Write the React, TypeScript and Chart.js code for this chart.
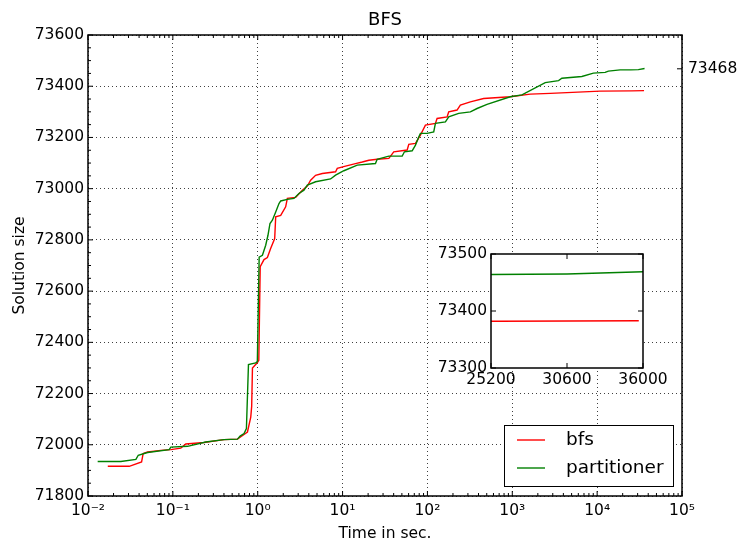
import React, { useEffect, useRef } from "react";
import { Chart, registerables } from "chart.js";

Chart.register(...registerables);

// ---- data ----
const bfsTime = [0.0171, 0.0306, 0.0428, 0.0447, 0.0504, 0.0722, 0.0947, 0.124, 0.142, 0.233, 0.401, 0.577, 0.69, 0.757, 0.828, 0.849, 0.867, 0.992, 1.03, 1.07, 1.186, 1.3, 1.42, 1.585, 1.629, 1.866, 2.135, 2.235, 2.8, 3.357, 3.843, 4.205, 4.81, 5.77, 8.27, 8.66, 10.84, 14.2, 17.06, 20.4, 25.6, 35.1, 40.1, 57.7, 60.3, 72.3, 82.7, 94.7, 124.2, 130, 170.6, 178.2, 223.4, 244.4, 320.6, 459.4, 946, 1629, 2800, 10840, 25700, 35700];
const bfsSize = [71916, 71916, 71933, 71966, 71972, 71978, 71981, 71987, 72003, 72009, 72020, 72022, 72040, 72050, 72108, 72150, 72300, 72321, 72330, 72695, 72723, 72731, 72766, 72805, 72890, 72896, 72929, 72962, 72966, 72994, 73010, 73033, 73052, 73059, 73066, 73079, 73088, 73098, 73104, 73111, 73115, 73118, 73144, 73151, 73173, 73177, 73209, 73248, 73255, 73274, 73280, 73300, 73307, 73326, 73339, 73352, 73359, 73369, 73372, 73381, 73382, 73383];

const partTime = [0.013, 0.0244, 0.0367, 0.0391, 0.046, 0.0504, 0.0905, 0.0947, 0.149, 0.244, 0.401, 0.577, 0.62, 0.69, 0.736, 0.778, 0.946, 0.99, 1.04, 1.136, 1.242, 1.321, 1.395, 1.489, 1.629, 1.781, 1.866, 2.235, 2.673, 3.062, 3.506, 3.843, 4.81, 7.22, 8.27, 10.36, 14.9, 24.4, 25.6, 35.1, 50.4, 53.6, 66.1, 72.3, 79.0, 82.7, 99.1, 118.6, 124.2, 162.9, 178.2, 233.5, 320.6, 384.6, 503.7, 946, 1300, 2444, 3508, 3843, 6607, 9040, 12420, 13580, 18660, 25000, 30600, 36200];
const partSize = [71935, 71935, 71943, 71959, 71966, 71970, 71981, 71991, 71994, 72011, 72020, 72022, 72034, 72044, 72063, 72313, 72320, 72325, 72733, 72740, 72779, 72818, 72864, 72877, 72909, 72942, 72952, 72958, 72962, 72981, 72994, 73014, 73027, 73038, 73053, 73070, 73092, 73098, 73115, 73127, 73127, 73144, 73148, 73170, 73202, 73216, 73216, 73222, 73255, 73261, 73280, 73294, 73300, 73313, 73329, 73359, 73366, 73414, 73422, 73431, 73438, 73451, 73454, 73459, 73464, 73464, 73465, 73469];

const seriesNames = ["bfs", "partitioner"];
const seriesColors = ["#ff0000", "#008000"];

const chartTitle = "BFS";
const xAxisTitle = "Time in sec.";
const yAxisTitle = "Solution size";

const xTickValues = [0.01, 0.1, 1, 10, 100, 1000, 10000, 100000];
const xTickLabels = ["10⁻²", "10⁻¹", "10⁰", "10¹", "10²", "10³", "10⁴", "10⁵"];
const yTickValues = [71800, 72000, 72200, 72400, 72600, 72800, 73000, 73200, 73400, 73600];
const yMinorStep = 50;
const finalValueTicks = [73468];

const insetXTicks = [25200, 30600, 36000];
const insetYTicks = [73300, 73400, 73500];

const FONT = "'DejaVu Sans', 'Liberation Sans', sans-serif";

// minor tick positions (layout helpers)
const xMinorTicks: number[] = [];
for (let i = 0; i < xTickValues.length - 1; i++) {
  for (let m = 2; m <= 9; m++) xMinorTicks.push(m * xTickValues[i]);
}
const yMinorTicks: number[] = [];
for (let v = yTickValues[0]; v <= yTickValues[yTickValues.length - 1]; v += yMinorStep) {
  if (!yTickValues.includes(v)) yMinorTicks.push(v);
}

function makeFramePlugin(cfg: {
  xMajor: number[];
  xMinor: number[];
  yLeft: number[];
  yLeftMinor: number[];
  yRight: number[];
  yRightScale?: string;
  major: number;
  minor: number;
}) {
  return {
    id: "frameTicks",
    afterDatasetsDraw(chart: any) {
      const { ctx, chartArea: a } = chart;
      const xs = chart.scales.x;
      const ys = chart.scales.y;
      const yr = cfg.yRightScale ? chart.scales[cfg.yRightScale] : ys;
      ctx.save();
      ctx.strokeStyle = "#000";
      ctx.lineWidth = 1;
      const line = (x1: number, y1: number, x2: number, y2: number) => {
        ctx.beginPath();
        ctx.moveTo(x1, y1);
        ctx.lineTo(x2, y2);
        ctx.stroke();
      };
      const inX = (p: number) => p >= a.left - 0.5 && p <= a.right + 0.5;
      const inY = (p: number) => p >= a.top - 0.5 && p <= a.bottom + 0.5;
      for (const v of cfg.xMajor) {
        const p = xs.getPixelForValue(v);
        if (!inX(p)) continue;
        line(p, a.bottom, p, a.bottom - cfg.major);
        line(p, a.top, p, a.top + cfg.major);
      }
      for (const v of cfg.xMinor) {
        const p = xs.getPixelForValue(v);
        if (!inX(p)) continue;
        line(p, a.bottom, p, a.bottom - cfg.minor);
        line(p, a.top, p, a.top + cfg.minor);
      }
      for (const v of cfg.yLeft) {
        const p = ys.getPixelForValue(v);
        if (!inY(p)) continue;
        line(a.left, p, a.left + cfg.major, p);
      }
      for (const v of cfg.yLeftMinor) {
        const p = ys.getPixelForValue(v);
        if (!inY(p)) continue;
        line(a.left, p, a.left + cfg.minor, p);
      }
      for (const v of cfg.yRight) {
        const p = yr.getPixelForValue(v);
        if (!inY(p)) continue;
        line(a.right, p, a.right - cfg.major, p);
      }
      ctx.lineWidth = 1.5;
      ctx.strokeRect(a.left, a.top, a.right - a.left, a.bottom - a.top);
      ctx.restore();
    },
  };
}

const boxLegendPlugin = {
  id: "boxLegend",
  afterDraw(chart: any) {
    const { ctx, chartArea: a } = chart;
    const w = 169;
    const h = 61;
    const x0 = a.right - 9 - w;
    const y0 = a.bottom - 10 - h;
    ctx.save();
    ctx.fillStyle = "#fff";
    ctx.fillRect(x0, y0, w, h);
    ctx.strokeStyle = "#000";
    ctx.lineWidth = 1;
    ctx.strokeRect(x0 + 0.5, y0 + 0.5, w, h);
    ctx.font = `18.5px ${FONT}`;
    ctx.textBaseline = "middle";
    ctx.textAlign = "left";
    chart.data.datasets.forEach((ds: any, i: number) => {
      const yy = y0 + 15 + i * 28;
      ctx.strokeStyle = ds.borderColor;
      ctx.lineWidth = 1.4;
      ctx.beginPath();
      ctx.moveTo(x0 + 13, yy);
      ctx.lineTo(x0 + 41, yy);
      ctx.stroke();
      ctx.fillStyle = "#000";
      ctx.fillText(ds.label, x0 + 62, yy);
    });
    ctx.restore();
  },
};

const whiteAreaPlugin = {
  id: "whiteArea",
  beforeDraw(chart: any) {
    const { ctx, chartArea: a } = chart;
    ctx.save();
    ctx.fillStyle = "#fff";
    ctx.fillRect(a.left, a.top, a.right - a.left, a.bottom - a.top);
    ctx.restore();
  },
};

function makeDatasets() {
  return [
    {
      label: seriesNames[0],
      data: bfsTime.map((t, i) => ({ x: t, y: bfsSize[i] })),
      borderColor: seriesColors[0],
      backgroundColor: seriesColors[0],
      borderWidth: 1.4,
      pointRadius: 0,
      tension: 0,
      fill: false,
      order: 1,
    },
    {
      label: seriesNames[1],
      data: partTime.map((t, i) => ({ x: t, y: partSize[i] })),
      borderColor: seriesColors[1],
      backgroundColor: seriesColors[1],
      borderWidth: 1.4,
      pointRadius: 0,
      tension: 0,
      fill: false,
      order: 0,
    },
  ];
}

const tickFont = { family: FONT, size: 15.5 };
const gridColor = "rgba(0,0,0,0.75)";

export default function App() {
  const mainRef = useRef<HTMLCanvasElement>(null);
  const insetRef = useRef<HTMLCanvasElement>(null);

  useEffect(() => {
    document.body.style.margin = "0";
    const main = new Chart(mainRef.current as HTMLCanvasElement, {
      type: "line",
      data: { datasets: makeDatasets() as any },
      options: {
        responsive: false,
        animation: false,
        devicePixelRatio: 1,
        layout: { padding: 0 },
        plugins: {
          legend: { display: false },
          tooltip: { enabled: false },
          title: {
            display: true,
            text: chartTitle,
            fullSize: false,
            color: "#000",
            font: { family: FONT, size: 18, weight: "normal", lineHeight: 1.2 },
            padding: { top: 10, bottom: 3.4 },
          },
        },
        scales: {
          x: {
            type: "logarithmic",
            position: "bottom",
            min: xTickValues[0],
            max: xTickValues[xTickValues.length - 1],
            afterBuildTicks: (s: any) => {
              s.ticks = xTickValues.map((v) => ({ value: v }));
            },
            afterFit: (s: any) => {
              s.height = 49;
            },
            ticks: {
              autoSkip: false,
              maxRotation: 0,
              minRotation: 0,
              padding: 6,
              color: "#000",
              font: tickFont,
              callback: (_v: any, i: number) => xTickLabels[i],
            },
            grid: { color: gridColor, lineWidth: 1, drawTicks: false },
            border: { display: false, dash: [1, 3] },
            title: {
              display: true,
              text: xAxisTitle,
              color: "#000",
              font: { family: FONT, size: 15.5, lineHeight: 1.2 },
              padding: { top: 0, bottom: 2 },
            },
          },
          y: {
            type: "linear",
            position: "left",
            min: yTickValues[0],
            max: yTickValues[yTickValues.length - 1],
            afterBuildTicks: (s: any) => {
              s.ticks = yTickValues.map((v) => ({ value: v }));
            },
            afterFit: (s: any) => {
              s.width = 88;
            },
            ticks: {
              padding: 4,
              color: "#000",
              font: tickFont,
              callback: (v: any) => String(v),
            },
            grid: { color: gridColor, lineWidth: 1, drawTicks: false },
            border: { display: false, dash: [1, 3] },
            title: {
              display: true,
              text: yAxisTitle,
              color: "#000",
              font: { family: FONT, size: 15.5, lineHeight: 1.2 },
              padding: { top: 11, bottom: 0 },
            },
          },
          y2: {
            type: "linear",
            position: "right",
            min: yTickValues[0],
            max: yTickValues[yTickValues.length - 1],
            afterBuildTicks: (s: any) => {
              s.ticks = finalValueTicks.map((v) => ({ value: v }));
            },
            afterFit: (s: any) => {
              s.width = 59;
            },
            ticks: {
              padding: 6,
              color: "#000",
              font: tickFont,
              callback: (v: any) => String(v),
            },
            grid: { display: false, drawTicks: false },
            border: { display: false },
          },
        },
      } as any,
      plugins: [
        makeFramePlugin({
          xMajor: xTickValues,
          xMinor: xMinorTicks,
          yLeft: yTickValues,
          yLeftMinor: yMinorTicks,
          yRight: finalValueTicks,
          yRightScale: "y2",
          major: 5,
          minor: 3,
        }),
        boxLegendPlugin,
      ],
    });

    const inset = new Chart(insetRef.current as HTMLCanvasElement, {
      type: "line",
      data: { datasets: makeDatasets() as any },
      options: {
        responsive: false,
        animation: false,
        devicePixelRatio: 1,
        layout: { padding: { top: 14, right: 37, left: 0, bottom: 0 } },
        plugins: {
          legend: { display: false },
          tooltip: { enabled: false },
          title: { display: false },
        },
        scales: {
          x: {
            type: "linear",
            min: insetXTicks[0],
            max: insetXTicks[insetXTicks.length - 1],
            afterBuildTicks: (s: any) => {
              s.ticks = insetXTicks.map((v) => ({ value: v }));
            },
            afterFit: (s: any) => {
              s.height = 27;
            },
            ticks: {
              autoSkip: false,
              maxRotation: 0,
              minRotation: 0,
              padding: 3,
              color: "#000",
              font: tickFont,
              callback: (v: any) => String(v),
            },
            grid: { display: false, drawTicks: false },
            border: { display: false },
          },
          y: {
            type: "linear",
            min: insetYTicks[0],
            max: insetYTicks[insetYTicks.length - 1],
            afterBuildTicks: (s: any) => {
              s.ticks = insetYTicks.map((v) => ({ value: v }));
            },
            afterFit: (s: any) => {
              s.width = 61;
            },
            ticks: {
              padding: 4,
              color: "#000",
              font: tickFont,
              callback: (v: any) => String(v),
            },
            grid: { display: false, drawTicks: false },
            border: { display: false },
          },
        },
      } as any,
      plugins: [
        whiteAreaPlugin,
        makeFramePlugin({
          xMajor: insetXTicks,
          xMinor: [],
          yLeft: insetYTicks,
          yLeftMinor: [],
          yRight: insetYTicks,
          major: 5,
          minor: 3,
        }),
      ],
    });

    return () => {
      main.destroy();
      inset.destroy();
    };
  }, []);

  return (
    <div style={{ position: "relative", width: 741, height: 545, background: "#fff" }}>
      <canvas ref={mainRef} width={741} height={545} style={{ position: "absolute", left: 0, top: 0 }} />
      <canvas ref={insetRef} width={250} height={155} style={{ position: "absolute", left: 430, top: 240 }} />
    </div>
  );
}
